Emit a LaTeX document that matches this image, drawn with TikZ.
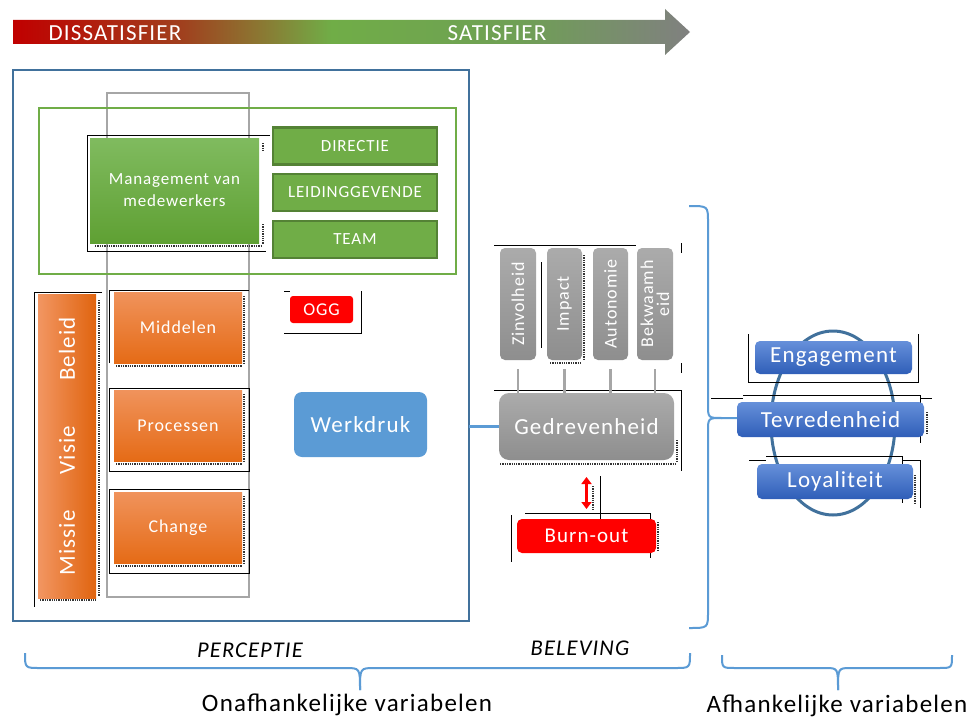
\documentclass[tikz,border=0pt]{standalone}
\usepackage{fontspec}
\setmainfont{Carlito}
\newfontfamily\spaced[LetterSpace=5]{Carlito}
\usetikzlibrary{arrows.meta,shapes.geometric}
\definecolor{sbred}{HTML}{C00000}
\definecolor{sbbrown}{HTML}{A0401E}
\definecolor{sbolive}{HTML}{8A7A33}
\definecolor{sbgreen}{HTML}{70AD47}
\definecolor{sbgreentwo}{HTML}{6F9F55}
\definecolor{sbgray}{HTML}{808080}
\definecolor{frameblue}{HTML}{41719C}
\definecolor{colgray}{HTML}{A6A6A6}
\definecolor{pgreen}{HTML}{70AD47}
\definecolor{pgreendark}{HTML}{548235}
\definecolor{mgtop}{HTML}{80BB5F}
\definecolor{mgbot}{HTML}{5FA033}
\definecolor{ortop}{HTML}{F0935C}
\definecolor{orbot}{HTML}{E56B16}
\definecolor{orleft}{HTML}{F29662}
\definecolor{orright}{HTML}{E0640F}
\definecolor{grtop}{HTML}{ABABAB}
\definecolor{grbot}{HTML}{8E8E8E}
\definecolor{bltop}{HTML}{6690DA}
\definecolor{blbot}{HTML}{2F5EB8}
\definecolor{wblue}{HTML}{5B9BD5}
\definecolor{pred}{HTML}{FF0000}
\pgfdeclarehorizontalshading{satbar}{100bp}{color(0bp)=(sbred); color(25bp)=(sbred); color(37.5bp)=(sbbrown); color(43.5bp)=(sbolive); color(48.5bp)=(sbgreen); color(62.5bp)=(sbgreentwo); color(75bp)=(sbgray); color(100bp)=(sbgray)}
\newcommand\myfs[1]{\fontsize{#1}{#1}\selectfont}
\begin{document}
\begin{tikzpicture}[x=1pt,y=-1pt,
  boxbase/.style={inner sep=0pt, outer sep=0pt, text=white, align=center},
  framebox/.style={inner sep=0pt, outer sep=0pt, fill=none},
  greenbox/.style={boxbase, fill=pgreen, draw=pgreendark, line width=2.5pt, minimum width=164pt, minimum height=37pt, font=\spaced\myfs{17}},
  orangebox/.style={boxbase, top color=ortop, bottom color=orbot, minimum width=128pt, minimum height=71pt, font=\spaced\myfs{18}},
  graybox/.style={boxbase, rounded corners=5pt, top color=grtop, bottom color=grbot, minimum width=36pt, minimum height=112pt},
  rottext/.style={text=white, rotate=90, inner sep=0pt, align=center, font=\spaced\myfs{18}},
  bluebox/.style={boxbase, rounded corners=5pt, top color=bltop, bottom color=blbot, font=\spaced\myfs{23}},
  artline/.style={black, line width=0.8pt},
  artdot/.style={black!80, line width=1.3pt, densely dotted},
  bracestyle/.style={wblue, line width=2pt},
  conn/.style={colgray, line width=2.5pt},
]
\useasboundingbox (0,0) rectangle (972,717);
\fill[white] (0,0) rectangle (972,717);

% top gradient arrow
\shade[shading=satbar] (13,20) -- (665,20) -- (665,9) -- (690,32) -- (665,55) -- (665,44) -- (13,44) -- cycle;
\node[text=white, font=\spaced\myfs{23}] (dis) at (115,33) {DISSATISFIER};
\node[text=white, font=\spaced\myfs{23}] (sat) at (497,33) {SATISFIER};

% frames
\node[framebox, draw=frameblue, line width=2.8pt, minimum width=456pt, minimum height=551pt] (frame) at (241,345.5) {};
\node[framebox, draw=colgray, line width=2.8pt, minimum width=142pt, minimum height=504pt] (gcol) at (178,345) {};
\node[framebox, draw=pgreen, line width=2.8pt, minimum width=417pt, minimum height=166pt] (gframe) at (247.5,191) {};

% management block
\draw[artline] (270,135) -- (87,135) -- (87,251) -- (266,251);
\draw[artdot] (95,246) -- (262,246);
\draw[artdot] (263,143) -- (263,151);
\draw[artdot] (263,224) -- (263,244);
\node[boxbase, top color=mgtop, bottom color=mgbot, minimum width=169pt, minimum height=105pt, font=\spaced\fontsize{17}{22}\selectfont] (mgmt) at (174.5,190.5) {Management van\\medewerkers};
\node[greenbox] (dir) at (355,146) {DIRECTIE};
\node[greenbox] (leid) at (355,192.5) {LEIDINGGEVENDE};
\node[greenbox] (team) at (355,239.5) {TEAM};

% left orange bar
\draw[artline] (102,292) -- (34,292) -- (34,607);
\draw[artdot] (99,300) -- (99,596);
\draw[artdot] (40,600) -- (96,600);
\node[boxbase, left color=orleft, right color=orright, minimum width=58pt, minimum height=304pt] (obar) at (67,446) {};
\node[rottext, font=\spaced\myfs{23}] (beleid) at (67,349) {Beleid};
\node[rottext, font=\spaced\myfs{23}] (visie) at (67,450) {Visie};
\node[rottext, font=\spaced\myfs{23}] (missie) at (67,543) {Missie};

% orange boxes
\draw[artline] (109,363) -- (109,290) -- (249,290);
\draw[artline] (109,388) rectangle (249,471);
\draw[artline] (109,489) rectangle (249,573);
\draw[artdot] (116,366) -- (242,366);
\draw[artdot] (244,296) -- (244,364);
\draw[artdot] (116,464) -- (242,464);
\draw[artdot] (244,394) -- (244,462);
\draw[artdot] (116,566) -- (242,566);
\draw[artdot] (244,496) -- (244,564);
\node[orangebox] (mid) at (178,327.5) {Middelen};
\node[orangebox] (proc) at (178,425.5) {Processen};
\node[orangebox] (chg) at (178,527.5) {Change};

% OGG and Werkdruk
\draw[artline] (284,333) -- (361,333) -- (361,291);
\draw[artline] (284,291) -- (290,291);
\node[boxbase, fill=pred, rounded corners=3pt, minimum width=63pt, minimum height=27pt, font=\spaced\myfs{18}] (ogg) at (321.5,309.5) {OGG};
\node[boxbase, fill=wblue, rounded corners=8pt, minimum width=133pt, minimum height=65pt, font=\spaced\myfs{23}] (werk) at (360.5,424.5) {Werkdruk};

% beleving column
\draw[artline] (494,245) -- (636,245);
\draw[artline] (681,243) -- (681,253);
\draw[artline] (681,363) -- (681,373);
\draw[artline] (494,390) -- (681,390) -- (681,471);
\draw[artdot] (584,255) -- (584,360);
\draw[artdot] (550,363) -- (580,363);
\draw[artdot] (500,464) -- (676,464);
\draw[artdot] (677,440) -- (677,461);
\node[graybox] (zin) at (518,304) {};
\node[graybox, minimum width=35pt] (imp) at (564.5,304) {};
\node[graybox, minimum width=35pt] (aut) at (610.5,304) {};
\node[graybox] (bek) at (655,304) {};
\draw[artline] (541,262) -- (541,348);
\node[rottext] (zint) at (zin.center) {Zinvolheid};
\node[rottext] (impt) at (imp.center) {Impact};
\node[rottext] (autt) at (aut.center) {Autonomie};
\node[rottext, font=\spaced\fontsize{18}{16}\selectfont] (bekt) at (bek.center) {Bekwaamh\\eid};
\node[boxbase, rounded corners=10pt, top color=grtop, bottom color=grbot, minimum width=175pt, minimum height=67pt, font=\spaced\myfs{23}] (ged) at (586.5,426.5) {Gedrevenheid};
\foreach \b in {zin,imp,aut,bek}{
  \draw[conn, shorten <=9pt] (\b.south) -- (\b.south |- ged.north);
}
\draw[wblue, line width=2.5pt] (frame.east |- ged.west) -- (ged.west);

% burn-out
\draw[artline] (600,476) -- (600,519);
\draw[artline] (525,513) -- (650,513) -- (650,558);
\draw[artline] (511,515) -- (511,562);
\draw[artdot] (593,486) -- (593,510);
\draw[artdot] (658,522) -- (658,550);
\node[boxbase, fill=pred, rounded corners=5pt, minimum width=139pt, minimum height=34pt, font=\spaced\myfs{21}] (burn) at (586.5,536) {Burn-out};
\draw[pred, line width=3.5pt, {Triangle[width=10pt,length=7pt]}-{Triangle[width=10pt,length=7pt]}, shorten <=17pt, shorten >=10pt] (ged.south) -- (burn.north);

% right cycle
\node[ellipse, draw=frameblue, line width=3pt, minimum width=124pt, minimum height=184pt, inner sep=0pt] (cyc) at (833,423) {};
\draw[artline] (748,334) -- (748,382) -- (918,382) -- (918,334);
\draw[artline] (711,398) -- (743,398);
\draw[artline] (743,395) -- (920,395) -- (920,443);
\draw[artline] (920,398) -- (932,398);
\draw[artline] (749,460) -- (766,460);
\draw[artline] (766,456) -- (902,456) -- (902,503);
\draw[artline] (902,460) -- (920,460) -- (920,508);
\draw[artdot] (927,412) -- (927,433);
\draw[artdot] (915,475) -- (915,503);
\node[bluebox, minimum width=157pt, minimum height=33pt] (eng) at (833.5,357.5) {Engagement};
\node[bluebox, minimum width=187pt, minimum height=35pt] (tev) at (830.5,419.5) {Tevredenheid};
\node[bluebox, minimum width=156pt, minimum height=35pt] (loy) at (835,481.5) {Loyaliteit};

% right brace pointing to Tevredenheid
\coordinate (rbt) at (689,206);
\coordinate (rbb) at (689,628);
\draw[bracestyle] (rbt) .. controls (708,206) .. (708,222) -- (708,404) .. controls (708,418) .. (722,418) -- (tev.west |- 0,418);
\draw[bracestyle] (rbb) .. controls (708,628) .. (708,612) -- (708,432) .. controls (708,418) .. (722,418);

% bottom labels and braces
\node[font=\spaced\itshape\myfs{22.5}] (perc) at (250,650) {PERCEPTIE};
\node[font=\spaced\itshape\myfs{22.5}] (bel) at (580,648) {BELEVING};
\draw[bracestyle] (25,653) .. controls (25,668) .. (40,668) -- (345,668) .. controls (360,668) .. (360,690);
\draw[bracestyle] (360,690) .. controls (360,668) .. (375,668) -- (675,668) .. controls (690,668) .. (690,653);
\draw[bracestyle] (722,655) .. controls (722,668) .. (735,668) -- (825,668) .. controls (838,668) .. (838,690);
\draw[bracestyle] (838,690) .. controls (838,668) .. (851,668) -- (939,668) .. controls (952,668) .. (952,655);
\node[font=\spaced\myfs{25}] (onaf) at (347,705) {Onafhankelijke variabelen};
\node[font=\spaced\myfs{25}] (afh) at (837,706) {Afhankelijke variabelen};
\end{tikzpicture}
\end{document}
